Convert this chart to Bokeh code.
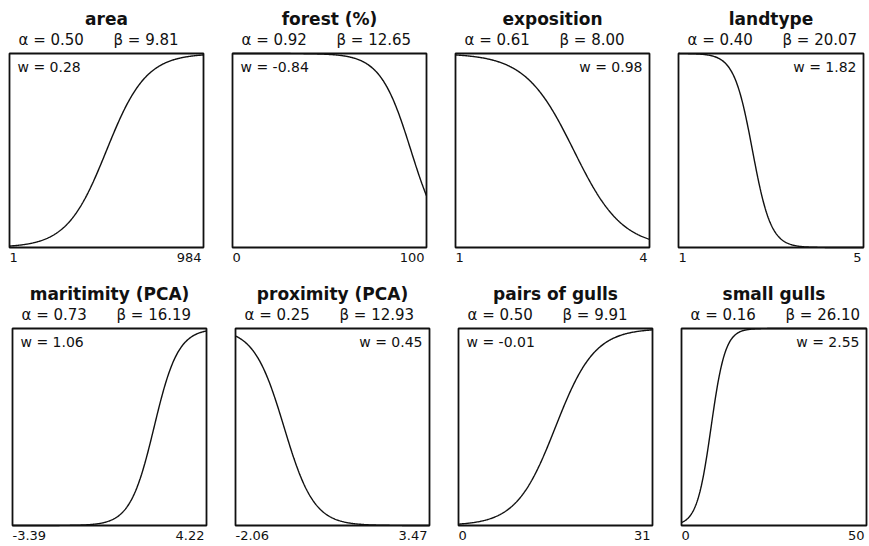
import numpy as np
from bokeh.plotting import figure
from bokeh.layouts import gridplot
from bokeh.models import Range1d
from bokeh.core.properties import value
from bokeh.embed import file_html
from bokeh.resources import INLINE

# ---- data ----
names = ["area", "forest (%)", "exposition", "landtype",
         "maritimity (PCA)", "proximity (PCA)", "pairs of gulls", "small gulls"]
alphas = [0.50, 0.92, 0.61, 0.40, 0.73, 0.25, 0.50, 0.16]
betas = [9.81, 12.65, 8.00, 20.07, 16.19, 12.93, 9.91, 26.10]
weights = [0.28, -0.84, 0.98, 1.82, 1.06, 0.45, -0.01, 2.55]
x_min = [1, 0, 1, 1, -3.39, -2.06, 0, 0]
x_max = [984, 100, 4, 5, 4.22, 3.47, 31, 50]
direction = [1, -1, -1, -1, 1, -1, 1, 1]     # rising or falling sigmoid
w_side = ["left", "left", "right", "right", "left", "right", "left", "right"]

INK = "#111111"
FONT = "DejaVu Sans"


def fmt(v):
    return "{:g}".format(v)


# layout (pixels)
fig_w = [223, 223, 223, 200]
fig_h = [275, 271]
box_left = [9, 12]
box_top = 53
box_w = [194, 194, 194, 185]
box_h = [194, 197]

figs = []
for i in range(8):
    r, c = divmod(i, 4)
    lo, hi = x_min[i], x_max[i]
    fw, fh = fig_w[c], fig_h[r]
    bl, bw, bh = box_left[r], box_w[c], box_h[r]
    sx = (hi - lo) / bw
    xr = Range1d(lo - bl * sx, lo + (fw - bl) * sx)
    yr = Range1d(-(fh - box_top - bh) / bh, 1 + box_top / bh)
    p = figure(width=fw, height=fh, output_backend="svg",
               toolbar_location=None, x_axis_location=None, y_axis_location=None,
               x_range=xr, y_range=yr,
               min_border_left=0, min_border_right=0,
               min_border_top=0, min_border_bottom=0,
               background_fill_color="white", border_fill_color="white")
    p.xgrid.visible = False
    p.ygrid.visible = False
    p.outline_line_color = None

    # panel box spanning the variable's range and the response range 0..1
    p.quad(left=[lo], right=[hi], bottom=[0], top=[1], fill_color=None,
           line_color=INK, line_width=1.8)

    # logistic response curve defined by the panel's alpha / beta
    t = np.linspace(0, 1, 300)
    yv = 1.0 / (1.0 + np.exp(-direction[i] * betas[i] * (t - alphas[i])))
    xv = lo + t * (hi - lo)
    p.line(xv, yv, line_color=INK, line_width=1.4)

    mid = (lo + hi) / 2
    p.text(x=[mid], y=[1], text=[names[i]], text_align="center",
           text_baseline="middle", y_offset=-35,
           text_font=value(FONT), text_font_style="bold",
           text_font_size="17px", text_color=INK)
    p.text(x=[lo], y=[1], text=["\u03b1 = {:.2f}".format(alphas[i])],
           text_align="left", text_baseline="middle", x_offset=9, y_offset=-14,
           text_font=value(FONT), text_font_size="15px", text_color=INK)
    p.text(x=[lo], y=[1], text=["\u03b2 = {:.2f}".format(betas[i])],
           text_align="left", text_baseline="middle", x_offset=104, y_offset=-14,
           text_font=value(FONT), text_font_size="15px", text_color=INK)
    p.text(x=[lo], y=[0], text=[fmt(lo)], text_align="left",
           text_baseline="top", x_offset=0, y_offset=5,
           text_font=value(FONT), text_font_size="13px", text_color=INK)
    p.text(x=[hi], y=[0], text=[fmt(hi)], text_align="right",
           text_baseline="top", x_offset=-2, y_offset=5,
           text_font=value(FONT), text_font_size="13px", text_color=INK)

    if w_side[i] == "left":
        wx, wal, xo = lo, "left", 8
    else:
        wx, wal, xo = hi, "right", -7
    p.text(x=[wx], y=[1], text=["w = {:.2f}".format(weights[i])],
           text_align=wal, text_baseline="top", x_offset=xo, y_offset=5,
           text_font=value(FONT), text_font_size="14px", text_color=INK)
    figs.append(p)

grid = gridplot(figs, ncols=4, toolbar_location=None)
open("out.html", "w").write(file_html(grid, INLINE))
